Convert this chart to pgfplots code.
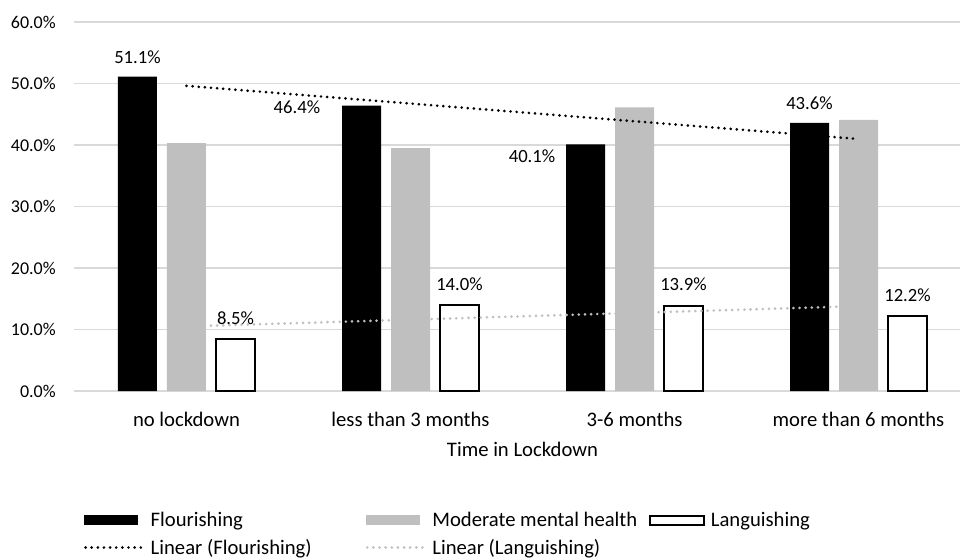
\documentclass[border=0pt]{standalone}
\usepackage{fontspec}
\setmainfont{Carlito}
\usepackage{pgfplots}
\pgfplotsset{compat=1.18}
\definecolor{gridc}{HTML}{D9D9D9}
\definecolor{modc}{HTML}{BFBFBF}
\newcommand{\tickfont}{\fontsize{13.5}{16}\selectfont}
\newcommand{\datafont}{\fontsize{14}{16}\selectfont}
\newcommand{\labfont}{\fontsize{15.5}{18}\selectfont}
\begin{document}
\begin{tikzpicture}
\begin{axis}[
  scale only axis,
  width=672pt, height=276.75pt,
  xmin=-0.5, xmax=3.5, ymin=0, ymax=60,
  xtick={0,1,2,3},
  xticklabels={no lockdown, less than 3 months, 3-6 months, more than 6 months},
  ytick={0,10,...,60},
  /pgf/number format/assume math mode=true,
  yticklabel={\pgfmathprintnumber[fixed,fixed zerofill,precision=1]{\tick}\%},
  axis line style={draw=none},
  major tick length=0pt,
  tick style={draw=none},
  ymajorgrids,
  grid style={gridc, line width=1pt},
  yticklabel style={inner sep=0pt, anchor=east, xshift=-13.9pt, font=\tickfont},
  xticklabel style={inner sep=0pt, anchor=center, yshift=-21pt, font=\labfont},
  xlabel={Time in Lockdown},
  xlabel style={at={(axis description cs:0.5,0)}, anchor=center, yshift=-43.5pt, inner sep=0pt, font=\labfont},
  legend columns=3,
  legend cell align=left,
  legend style={at={(axis description cs:0,0)}, anchor=north west, xshift=7pt, yshift=-90.5pt,
    draw=none, fill=none, inner sep=0pt, row sep=8pt, font=\labfont,
    nodes={inner sep=0pt},
    /tikz/every odd column/.append style={column sep=4.75pt},
    /tikz/column 2/.style={column sep=40.5pt},
    /tikz/column 4/.style={column sep=8.5pt}},
]
\coordinate (ll) at (rel axis cs:0,0);

% Flourishing
\addplot[ybar, bar width=29.25pt, bar shift=-36.75pt, fill=black, draw=none,
  point meta=y,
  nodes near coords={\pgfmathprintnumber[fixed,fixed zerofill,precision=1]{\pgfplotspointmeta}\%},
  every node near coord/.append style={anchor=center, inner sep=0pt, xshift=-36.75pt, yshift=15pt, text=black, font=\datafont},
  coordinate style/.condition={abs(x-1)<0.1}{xshift=-48.4pt, yshift=-16pt},
  coordinate style/.condition={abs(x-2)<0.1}{xshift=-40.1pt, yshift=-24pt},
  legend image code/.code={\fill[black] (0pt,-3.75pt) rectangle (40.5pt,3.75pt);}]
  coordinates {(0,51.1) (1,46.4) (2,40.1) (3,43.6)};
\addlegendentry{Flourishing}

% Moderate mental health
\addplot[ybar, bar width=29.25pt, bar shift=0pt, fill=modc, draw=none,
  legend image code/.code={\fill[modc] (0pt,-3.75pt) rectangle (40.5pt,3.75pt);}]
  coordinates {(0,40.3) (1,39.5) (2,46.1) (3,44.1)};
\addlegendentry{Moderate mental health}

% Languishing
\addplot[ybar, bar width=29.25pt, bar shift=36.75pt, fill=white, draw=black, line width=1.5pt,
  point meta=y,
  nodes near coords={\pgfmathprintnumber[fixed,fixed zerofill,precision=1]{\pgfplotspointmeta}\%},
  every node near coord/.append style={anchor=center, inner sep=0pt, xshift=36.75pt, yshift=15.75pt, text=black, font=\datafont},
  legend image code/.code={\draw[black, line width=1.5pt, fill=white] (0pt,-3.4pt) rectangle (40.5pt,3.4pt);}]
  coordinates {(0,8.5) (1,14.0) (2,13.9) (3,12.2)};
\addlegendentry{Languishing}

% Linear trend (Flourishing)
\addplot[sharp plot, mark=none, black, line width=2.2pt, line cap=round, dash pattern=on 0pt off 4.6pt,
  legend image code/.code={\draw[black, line width=2.2pt, line cap=round, dash pattern=on 0pt off 4.6pt] (1pt,0pt) -- (44pt,0pt);}]
  coordinates {(0,49.62) (3,40.98)};
\addlegendentry{Linear (Flourishing)}

% Linear trend (Languishing)
\addplot[sharp plot, mark=none, modc, line width=2.2pt, line cap=round, dash pattern=on 0pt off 4.6pt,
  legend image code/.code={\draw[modc, line width=2.2pt, line cap=round, dash pattern=on 0pt off 4.6pt] (1pt,0pt) -- (44pt,0pt);}]
  coordinates {(0,10.5) (3,13.8)};
\addlegendentry{Linear (Languishing)}
\end{axis}
\pgfresetboundingbox
\path ([xshift=-55.875pt,yshift=-125.25pt]ll) rectangle ([xshift=664.125pt,yshift=293.25pt]ll);
\end{tikzpicture}
\end{document}
